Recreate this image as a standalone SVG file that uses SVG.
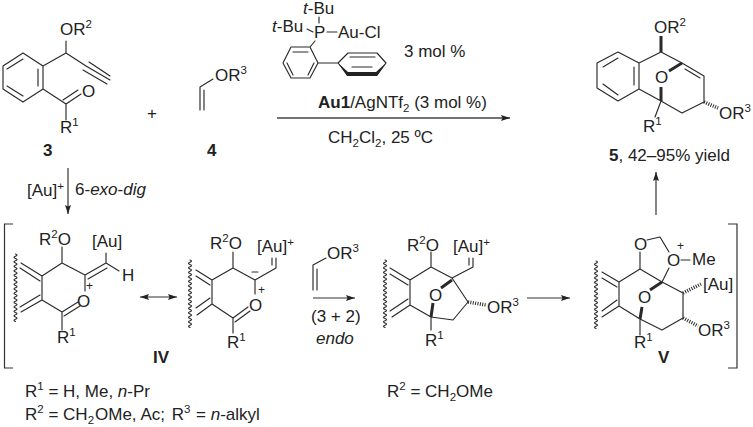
<svg xmlns="http://www.w3.org/2000/svg" xmlns:xlink="http://www.w3.org/1999/xlink" width="753" height="427" viewBox="0 0 753 427">
<style>
text{font-family:"Liberation Sans",Arial,sans-serif;font-size:17px;fill:#222}
.b{font-weight:bold}
.i{font-style:italic}
.t{font-size:11.5px}
.p{font-size:12px}
.l{fill:none;stroke:#2a2a2a;stroke-width:1.15;stroke-linecap:round;stroke-linejoin:round}
.w{fill:none;stroke:#2a2a2a;stroke-width:3}
.h{fill:none;stroke:#2a2a2a;stroke-width:3.6;stroke-dasharray:1 1.4}
.a{fill:none;stroke:#333;stroke-width:1.2}
</style>
<defs>
<marker id="ah" markerUnits="userSpaceOnUse" markerWidth="10" markerHeight="8" refX="9" refY="4" orient="auto-start-reverse"><path d="M0 1 L9 4 L0 7 L1.5 4Z" fill="#222"/></marker>
<path id="wavy" class="l" d="M0 0q3 1.1 0 2.25q-3 1.1 0 2.25q3 1.1 0 2.25q-3 1.1 0 2.25q3 1.1 0 2.25q-3 1.1 0 2.25q3 1.1 0 2.25q-3 1.1 0 2.25q3 1.1 0 2.25q-3 1.1 0 2.25q3 1.1 0 2.25q-3 1.1 0 2.25q3 1.1 0 2.25q-3 1.1 0 2.25q3 1.1 0 2.25q-3 1.1 0 2.25q3 1.1 0 2.25q-3 1.1 0 2.25q3 1.1 0 2.25q-3 1.1 0 2.25q3 1.1 0 2.25q-3 1.1 0 2.25q3 1.1 0 2.25q-3 1.1 0 2.25q3 1.1 0 2.25q-3 1.1 0 2.25q3 1.1 0 2.25q-3 1.1 0 2.25q3 1.1 0 2.25q-3 1.1 0 2.25"/>
</defs>

<g id="compound-3">
<path class="l" d="M23 53L43 66V89L23 102L3 89V66ZM23 59L7 69M38 69V86M7 86L23 96M43 66L66 53V41M66 53L86 66M86 66L110 80M89 62L110 76M83 70L107 84M43 89L66 104V120M66 104L81 94M63 100L78 90"/>
<text x="60" y="35">OR<tspan class="t" dy="-7">2</tspan></text>
<text x="82" y="97">O</text>
<text x="60" y="133">R<tspan class="t" dy="-7">1</tspan></text>
<text class="b" x="43" y="156">3</text>
</g>
<text x="147" y="119">+</text>
<g id="compound-4">
<path class="l" d="M200 110V87L213 79M204 110V90"/>
<text x="215" y="81">OR<tspan class="t" dy="-7">3</tspan></text>
<text class="b" x="207" y="156">4</text>
</g>
<g id="catalyst">
<path class="l" d="M319 17V23M307 29L313 32M327 32H337M315 41L310 47M291 47H310L318 63L310 78H291L283 63ZM293 52H308M287 63L293 75M314 63L308 75M318 63H338M338 63L348 53H377L386 63L377 75H348ZM352 67H372M350 57H375"/>
<path d="M338 63L348 72H376L386 63L377 76H347Z" fill="#222"/>
<text x="303" y="14"><tspan class="i">t</tspan>-Bu</text>
<text x="272" y="32"><tspan class="i">t</tspan>-Bu</text>
<text x="314" y="38">P</text>
<text x="338" y="38">Au-Cl</text>
<text x="404" y="57">3 mol %</text>
</g>
<g id="conditions">
<text x="318" y="108"><tspan class="b">Au1</tspan>/AgNTf<tspan class="t" dy="4">2</tspan><tspan dy="-4"> (3 mol %)</tspan></text>
<text x="328" y="143">CH<tspan class="t" dy="4">2</tspan><tspan dy="-4">Cl</tspan><tspan class="t" dy="4">2</tspan><tspan dy="-4">, 25 ºC</tspan></text>
</g>
<g id="product-5">
<path class="l" d="M618 52L639 63V89L618 101L597 88V63ZM618 58L603 67M634 67V85M603 84L618 95M639 63L661 52L682 63L704 76V102L682 113L661 101L639 89M685 69L700 78M661 101L655 117"/>
<path class="w" d="M661 52V36M661 101V87M682 63L669 71"/>
<path class="h" d="M704 102L718 108"/>
<text x="654" y="33">OR<tspan class="t" dy="-7">2</tspan></text>
<text x="655" y="83">O</text>
<text x="643" y="132">R<tspan class="t" dy="-7">1</tspan></text>
<text x="719" y="119">OR<tspan class="t" dy="-7">3</tspan></text>
<text x="609" y="161"><tspan class="b">5</tspan>, 42–95% yield</text>
</g>
<text x="27" y="196">[Au]<tspan class="t" dy="-6">+</tspan></text>
<text x="75" y="195">6-<tspan class="i">exo</tspan>-<tspan class="i">dig</tspan></text>

<g id="bracket-left"><path class="a" d="M13 224H4.5V368H13"/></g>
<g id="intermediate-IVa">
<use xlink:href="#wavy" href="#wavy" x="15.5" y="254"/>
<path class="l" d="M62 263L42 276V300L62 312L78 302M62 263L85 275M62 263V247M42 276L21 263M40 281L20 268M42 300L21 312M40 295L20 307M64 316L80 306M62 312V330M85 275L106 263V253M85 275V291M88 279L107 268M106 263L119 271"/>
<text x="39" y="245">R<tspan class="t" dy="-7">2</tspan><tspan dy="7">O</tspan></text>
<text x="92" y="247">[Au]</text>
<text x="122" y="281">H</text>
<text x="86" y="289.5" class="p">+</text>
<text x="77" y="307">O</text>
<text x="57" y="343">R<tspan class="t" dy="-7">1</tspan></text>
</g>
<g id="intermediate-IVb">
<use xlink:href="#wavy" href="#wavy" x="190" y="260"/>
<path class="l" d="M233 268L212 280V304L233 318L248 307M233 268L255 280V294M233 268V252M212 280L196 270M210 285L196 276M212 304L197 315M210 298L196 308M235 322L250 311M233 318V333M255 280L276 268V258M272 265V258M252 272H258"/>
<text x="210" y="249">R<tspan class="t" dy="-7">2</tspan><tspan dy="7">O</tspan></text>
<text x="257" y="252">[Au]<tspan class="t" dy="-6">+</tspan></text>
<text x="258" y="294" class="p">+</text>
<text x="249" y="311">O</text>
<text x="227" y="348">R<tspan class="t" dy="-7">1</tspan></text>
</g>
<text class="b" x="153" y="363">IV</text>
<g id="reagent-arrow">
<path class="l" d="M313 290V265L326 258M317 290V269"/>
<text x="327" y="259">OR<tspan class="t" dy="-7">3</tspan></text>
<text x="311" y="322">(3 + 2)</text>
<text class="i" x="316" y="344">endo</text>
</g>
<g id="intermediate-3">
<use xlink:href="#wavy" href="#wavy" x="385" y="260"/>
<path class="l" d="M431 267L410 280V305L431 317L453 320L468 302L452 278L431 267M431 267V252M410 280L390 268M408 285L390 274M410 305L392 317M408 299L390 311M431 317V330M452 278L473 267V258M469 265V258"/>
<path class="w" d="M452 280L441 288M433 303L431 317"/>
<path class="h" d="M468 302L486 305"/>
<text x="407" y="251">R<tspan class="t" dy="-7">2</tspan><tspan dy="7">O</tspan></text>
<text x="453" y="252">[Au]<tspan class="t" dy="-6">+</tspan></text>
<text x="429" y="301">O</text>
<text x="487" y="313">OR<tspan class="t" dy="-7">3</tspan></text>
<text x="425" y="346">R<tspan class="t" dy="-7">1</tspan></text>
</g>
<g id="intermediate-V">
<use xlink:href="#wavy" href="#wavy" x="596" y="261"/>
<path class="l" d="M640 269L619 282V306L640 319L662 330L683 318V293L662 282L640 269M640 269V252M647 240L660 237L669 252M669 268L662 282M619 282L602 272M617 287L602 278M619 306L602 317M617 300L602 311M640 319V335M681 260H690"/>
<path class="w" d="M662 282L650 290M642 307L640 319"/>
<path class="h" d="M683 293L701 284M683 318L698 326"/>
<text x="634" y="250">O</text>
<text x="667" y="266">O</text>
<text x="677" y="250" class="p">+</text>
<text x="692" y="265">Me</text>
<text x="638" y="303">O</text>
<text x="703" y="290">[Au]</text>
<text x="698" y="336">OR<tspan class="t" dy="-7">3</tspan></text>
<text x="634" y="348">R<tspan class="t" dy="-7">1</tspan></text>
<text class="b" x="658" y="363">V</text>
</g>
<g id="bracket-right"><path class="a" d="M728 224H737V368H728"/></g>
<g id="footnotes">
<text x="25" y="397">R<tspan class="t" dy="-7">1</tspan><tspan dy="7"> = H, Me, </tspan><tspan class="i">n</tspan>-Pr</text>
<text x="25" y="420">R<tspan class="t" dy="-7">2</tspan><tspan dy="7"> = CH</tspan><tspan class="t" dy="4">2</tspan><tspan dy="-4" dx="1">OMe, Ac; </tspan><tspan dx="2">R</tspan><tspan class="t" dy="-7">3</tspan><tspan dy="7" dx="1"> = </tspan><tspan class="i">n</tspan>-alkyl</text>
<text x="387" y="397">R<tspan class="t" dy="-7">2</tspan><tspan dy="7"> = CH</tspan><tspan class="t" dy="4">2</tspan><tspan dy="-4">OMe</tspan></text>
</g>
<g id="connectors">
<path d="M277 118H510" fill="none" stroke="#444" stroke-width="1.6" marker-end="url(#ah)"/>
<path class="a" d="M68 168V214" marker-end="url(#ah)"/>
<path class="a" d="M656 215V172" marker-end="url(#ah)"/>
<path class="a" d="M140 297H177" marker-start="url(#ah)" marker-end="url(#ah)"/>
<path class="a" d="M313 298H355" marker-end="url(#ah)"/>
<path class="a" d="M527 298H570" marker-end="url(#ah)"/>
</g>
</svg>
